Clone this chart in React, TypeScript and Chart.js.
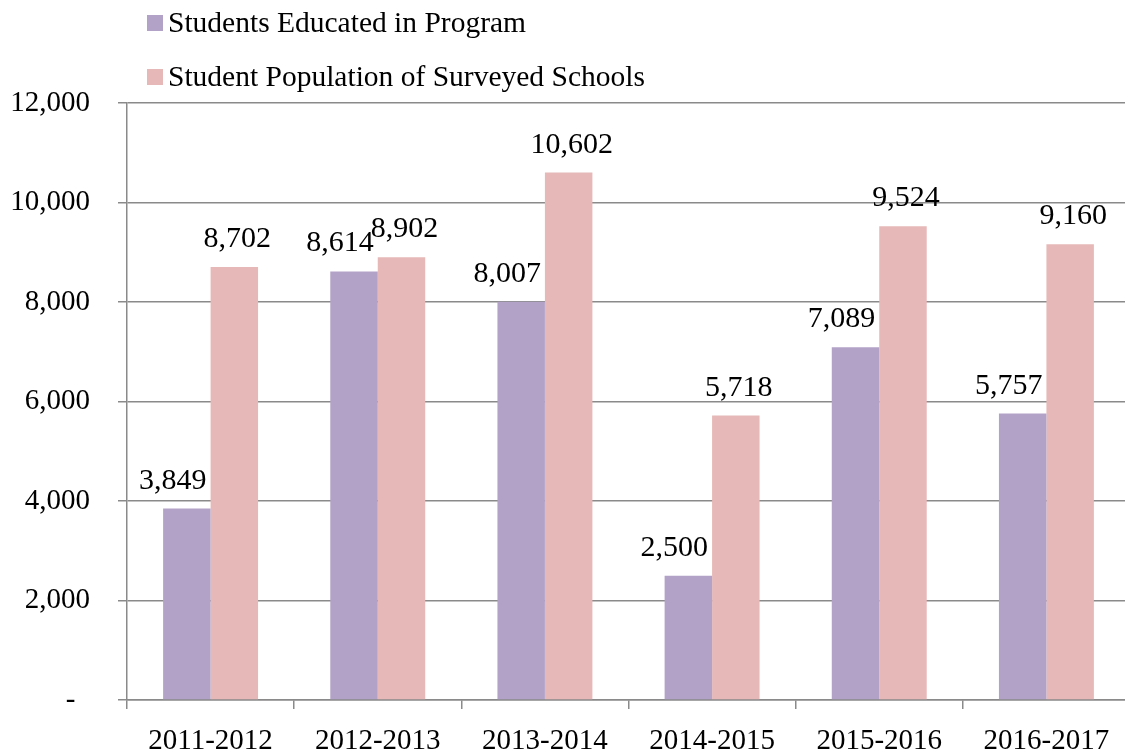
import React, { useEffect, useRef } from "react";
import { Chart, registerables } from "chart.js";

Chart.register(...registerables);

const categories = ["2011-2012", "2012-2013", "2013-2014", "2014-2015", "2015-2016", "2016-2017"];
const educated = [3849, 8614, 8007, 2500, 7089, 5757];
const population = [8702, 8902, 10602, 5718, 9524, 9160];
const seriesNames = ["Students Educated in Program", "Student Population of Surveyed Schools"];
const yTicks = [0, 2000, 4000, 6000, 8000, 10000, 12000];

const PURPLE = "#B3A2C7";
const PINK = "#E6B9B8";
const GRID = "#8a8a8a";
const FONT = "'Liberation Serif', 'Times New Roman', serif";
const FS = 29;
const LEGEND_FS = 29.5;
const VALUE_FS = 30;

const fmt = (v: number) => (v === 0 ? "-  " : v.toLocaleString("en-US"));

const legendPlugin = {
  id: "customLegend",
  afterDraw(chart: any) {
    const ctx = chart.ctx;
    ctx.save();
    ctx.font = `${LEGEND_FS}px ${FONT}`;
    ctx.textBaseline = "alphabetic";
    ctx.textAlign = "left";
    const colors = [PURPLE, PINK];
    const baselines = [32, 86];
    seriesNames.forEach((name, i) => {
      ctx.fillStyle = colors[i];
      ctx.fillRect(147, baselines[i] - 17, 16, 16);
      ctx.fillStyle = "#000";
      ctx.fillText(name, 168, baselines[i]);
    });
    ctx.restore();
  },
};

const valueLabelPlugin = {
  id: "valueLabels",
  afterDatasetsDraw(chart: any) {
    const ctx = chart.ctx;
    ctx.save();
    ctx.font = `${VALUE_FS}px ${FONT}`;
    ctx.fillStyle = "#000";
    ctx.textBaseline = "alphabetic";
    chart.data.datasets.forEach((ds: any, di: number) => {
      const meta = chart.getDatasetMeta(di);
      meta.data.forEach((bar: any, i: number) => {
        const v = ds.data[i] as number;
        const text = v.toLocaleString("en-US");
        if (di === 0) {
          ctx.textAlign = "right";
          ctx.fillText(text, bar.x + bar.width / 2 - 4, bar.y - 20);
        } else {
          ctx.textAlign = "center";
          ctx.fillText(text, bar.x + 3, bar.y - 20);
        }
      });
    });
    ctx.restore();
  },
};

export default function App() {
  const ref = useRef<HTMLCanvasElement | null>(null);
  useEffect(() => {
    if (!ref.current) return;
    const chart = new Chart(ref.current, {
      type: "bar",
      data: {
        labels: categories,
        datasets: [
          {
            label: seriesNames[0],
            data: educated,
            backgroundColor: PURPLE,
            categoryPercentage: 0.568,
            barPercentage: 1,
          },
          {
            label: seriesNames[1],
            data: population,
            backgroundColor: PINK,
            categoryPercentage: 0.568,
            barPercentage: 1,
          },
        ],
      },
      options: {
        animation: false,
        responsive: false,
        devicePixelRatio: 1,
        layout: { padding: { top: 103, left: 10, right: 2, bottom: 0 } },
        plugins: {
          legend: { display: false },
          tooltip: { enabled: false },
        },
        scales: {
          x: {
            offset: true,
            afterFit: (axis: any) => {
              axis.height = 52;
            },
            grid: {
              display: true,
              drawOnChartArea: false,
              drawTicks: true,
              tickLength: 9,
              color: GRID,
              lineWidth: 1.5,
              offset: true,
            },
            border: { display: true, color: GRID, width: 1.5 },
            ticks: {
              color: "#000",
              font: { family: FONT, size: FS },
              padding: 15,
              maxRotation: 0,
              autoSkip: false,
            },
          },
          y: {
            min: 0,
            max: 12000,
            afterBuildTicks: (axis: any) => {
              axis.ticks = yTicks.map((v) => ({ value: v }));
            },
            afterFit: (axis: any) => {
              axis.width = 117;
            },
            grid: {
              color: GRID,
              lineWidth: 1.5,
              drawTicks: true,
              tickLength: 9,
            },
            border: { display: true, color: GRID, width: 1.5 },
            ticks: {
              color: "#000",
              font: { family: FONT, size: FS },
              padding: 28,
              callback: (v: any) => fmt(Number(v)),
            },
          },
        },
      },
      plugins: [legendPlugin, valueLabelPlugin],
    });
    return () => chart.destroy();
  }, []);
  return (
    <div style={{ position: "fixed", left: 0, top: 0, width: 1125, height: 752, overflow: "hidden", background: "#fff" }}>
      <canvas ref={ref} width={1132} height={752} style={{ display: "block" }} />
    </div>
  );
}
